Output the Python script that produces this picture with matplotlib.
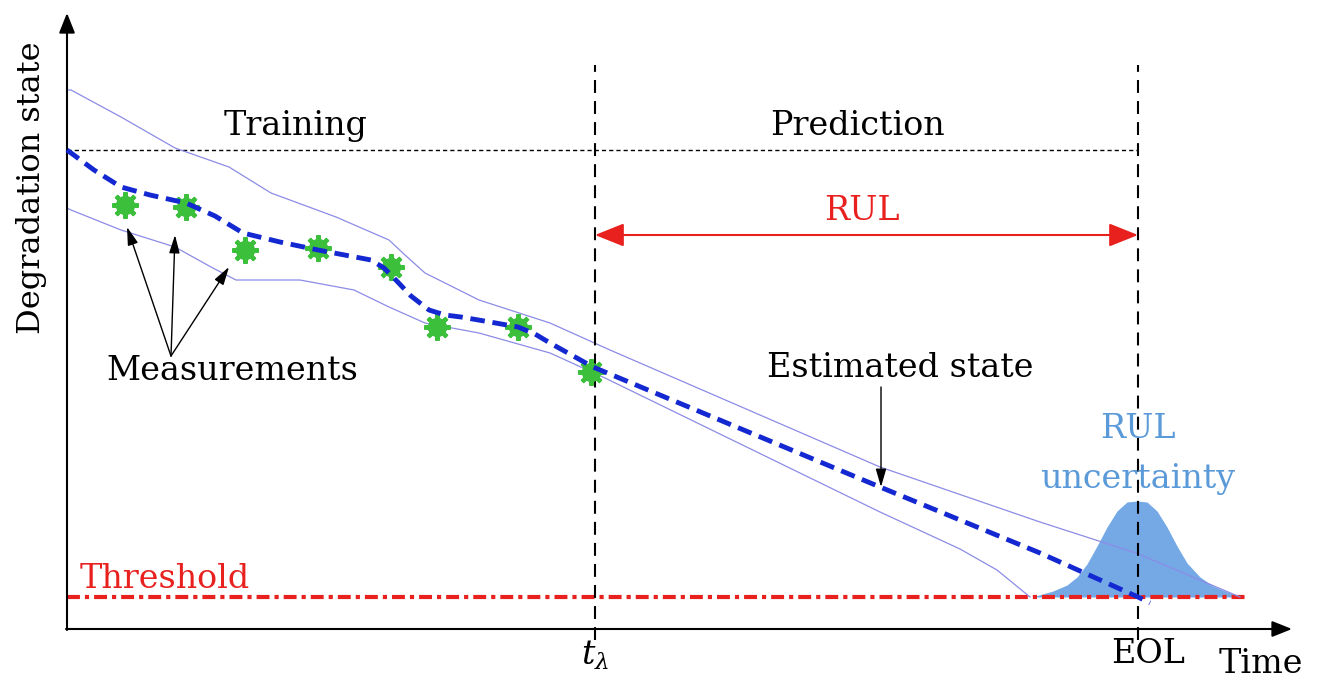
"""Schematic of data-driven RUL prognosis: training on measurements,
then extrapolation of the degradation state to the failure threshold."""
import numpy as np
import matplotlib
matplotlib.use("Agg")
import matplotlib.pyplot as plt

# time / state values (arbitrary units, origin at the axes corner)
meas_t = [58, 119, 178, 251, 324, 370, 451, 524]
meas_s = [424, 422, 379, 381, 362, 302, 302, 257]

mean_t = [0, 27, 54, 83, 119, 148, 176, 213, 251, 304, 317, 326, 344, 362,
          378, 394, 423, 451, 468, 483, 526, 813, 973, 1071, 1083]
mean_s = [479, 459, 442, 434, 426, 413, 396, 387, 379, 369, 361, 352, 333, 319,
          314, 312, 307, 302, 295, 286, 262, 142, 76, 32, 26]

upper_t = [0, 4, 54, 108, 162, 204, 269, 322, 338, 358, 412, 483, 543, 813, 973, 1069, 1173]
upper_s = [539, 539, 512, 481, 462, 436, 412, 389, 374, 356, 329, 306, 279, 162, 107, 76, 32]

lower_t = [0, 4, 54, 108, 144, 169, 233, 287, 322, 358, 412, 483, 538, 813, 893, 930, 963]
lower_s = [421, 419, 399, 382, 362, 349, 349, 339, 322, 306, 296, 276, 251, 117, 80, 59, 32]

# RUL distribution around EOL
bell_t = [965, 986, 1000, 1010, 1020, 1030, 1040, 1050, 1060, 1070,
          1080, 1090, 1100, 1110, 1120, 1133, 1146, 1163, 1178]
bell_s = [32, 38, 44, 52, 65, 83, 102, 118, 127, 128,
          127, 118, 102, 83, 66, 52, 43, 36, 32]

t_lambda = 528
t_eol = 1071
threshold = 32
initial_state = 479
threshold_end = 1180

W, H = 1317, 680
X0, Y0 = 67, 629  # pixel position of the axes corner

FONT = "DejaVu Serif"
FS = 24
plt.rcParams["mathtext.fontset"] = "dejavuserif"

fig = plt.figure(figsize=(W / 100, H / 100), dpi=100)
ax = fig.add_axes([0, 0, 1, 1])
ax.set_xlim(-X0, W - X0)
ax.set_ylim(-(H - Y0), Y0)
ax.axis("off")

# axes with arrow heads
axis_arrow = dict(arrowstyle="-|>,head_length=0.55,head_width=0.22", color="black",
                  lw=1.5, mutation_scale=22, shrinkA=0, shrinkB=0)
ax.annotate("", xy=(0, 616), xytext=(0, -1), arrowprops=axis_arrow)
ax.annotate("", xy=(1225, 0), xytext=(-1, 0), arrowprops=axis_arrow)

# uncertainty distribution
ax.fill_between(bell_t, threshold, bell_s, color="#74a9e6", lw=0, zorder=1)

# initial level and time markers
ax.plot([0, t_eol], [initial_state, initial_state], color="black", lw=1,
        dashes=(3, 2.2), zorder=2)
for tv in (t_lambda, t_eol):
    ax.plot([tv, tv], [-11, 564], color="black", lw=1.5, dashes=(6.2, 3.9), zorder=3)

ax.plot([0, threshold_end], [threshold, threshold], color="#e8201e", lw=3,
        dashes=(3.1, 1.2, 1.0, 1.2), zorder=2)

# confidence bounds and estimated state
ax.plot(upper_t, upper_s, color="#8c8ce6", lw=0.9, zorder=2)
ax.plot(lower_t, lower_s, color="#8c8ce6", lw=0.9, zorder=2)
ax.plot(mean_t, mean_s, color="#1428d2", lw=3.5, dashes=(3, 1.6), zorder=4)
ax.plot(meas_t, meas_s, ls="none", marker="o", ms=14, mew=0,
        color="#3cc03c", zorder=3)
ax.plot(meas_t, meas_s, ls="none", marker=(8, 2, 0), ms=19, mew=3,
        color="#3cc03c", zorder=3)

# RUL double arrow
ax.annotate("", xy=(t_eol, 394), xytext=(t_lambda, 394),
            arrowprops=dict(arrowstyle="<|-|>,head_length=0.9,head_width=0.36",
                            color="#e8201e", lw=1.5, mutation_scale=20,
                            shrinkA=0, shrinkB=0))

# annotation arrows
small_arrow = dict(arrowstyle="-|>,head_length=1.1,head_width=0.32",
                   color="black", lw=1, mutation_scale=10, shrinkA=0, shrinkB=0)
for tip in [(60, 402), (108, 394), (162, 362)]:
    ax.annotate("", xy=tip, xytext=(104, 273), arrowprops=small_arrow)
ax.annotate("", xy=(814, 142), xytext=(814, 242), arrowprops=small_arrow)

# labels
txt = dict(family=FONT, fontsize=FS, va="baseline", ha="center")
ax.text(229, 494, "Training", **txt)
ax.text(790, 494, "Prediction", **txt)
ax.text(795, 409, "RUL", color="#e8201e", **txt)
ax.text(165, 249, "Measurements", **txt)
ax.text(833, 252, "Estimated state", **txt)
ax.text(13, 41, "Threshold", color="#e8201e", family=FONT, fontsize=FS,
        va="baseline", ha="left")
ax.text(t_eol, 191, "RUL", color="#5b9ad8", **txt)
ax.text(t_eol, 141, "uncertainty", color="#5b9ad8", **txt)
ax.text(t_lambda, -36, r"$t_\lambda$", **txt)
ax.text(1081, -34, "EOL", **txt)
ax.text(1194, -44, "Time", **txt)
ax.text(-35, 441, "Degradation state", family=FONT, fontsize=23,
        rotation=90, ha="center", va="center")

fig.savefig("out.png", dpi=100)
plt.close(fig)
